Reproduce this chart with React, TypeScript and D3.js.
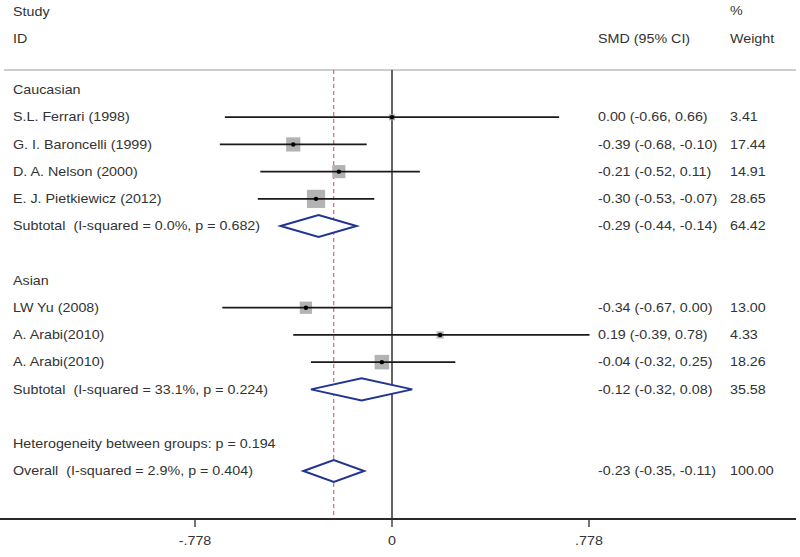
import React from "react";
import * as d3 from "d3";

const groups = ["Caucasian", "Asian"];
const studies = [
  "S.L. Ferrari (1998)",
  "G. I. Baroncelli (1999)",
  "D. A. Nelson (2000)",
  "E. J. Pietkiewicz (2012)",
  "LW Yu (2008)",
  "A. Arabi(2010)",
  "A. Arabi(2010)",
];
const studyGroup = [0, 0, 0, 0, 1, 1, 1];
const est = [0.0, -0.39, -0.21, -0.3, -0.34, 0.19, -0.04];
const lo = [-0.66, -0.68, -0.52, -0.53, -0.67, -0.39, -0.32];
const hi = [0.66, -0.1, 0.11, -0.07, 0.0, 0.78, 0.25];
const weight = [3.41, 17.44, 14.91, 28.65, 13.0, 4.33, 18.26];

const subLabels = [
  "Subtotal  (I-squared = 0.0%, p = 0.682)",
  "Subtotal  (I-squared = 33.1%, p = 0.224)",
];
const subEst = [-0.29, -0.12];
const subLo = [-0.44, -0.32];
const subHi = [-0.14, 0.08];
const subWeight = [64.42, 35.58];

const hetLabel = "Heterogeneity between groups: p = 0.194";
const overallLabel = "Overall  (I-squared = 2.9%, p = 0.404)";
const overallEst = -0.23;
const overallLo = -0.35;
const overallHi = -0.11;
const overallWeight = 100.0;

const tickValues = [-0.778, 0, 0.778];
const tickLabels = ["-.778", "0", ".778"];

const W = 800;
const H = 557;
const FONT = "'Liberation Sans', Arial, sans-serif";
const TXT = "#333";

function fmt(v: number) {
  return v.toFixed(2);
}
function ci(e: number, l: number, h: number) {
  return `${fmt(e)} (${fmt(l)}, ${fmt(h)})`;
}

function T({ x, y, children, anchor = "start" }: any) {
  return (
    <text
      transform={`translate(${x},${y}) scale(1.1,1)`}
      fontFamily={FONT}
      fontSize={13}
      fill={TXT}
      textAnchor={anchor}
      dominantBaseline="central"
      style={{ whiteSpace: "pre" }}
    >
      {children}
    </text>
  );
}

export default function App() {
  const x = d3.scaleLinear().domain([-0.778, 0.778]).range([195, 589]);
  const y = d3.scaleLinear().domain([0, 14]).range([90, 471]);
  const top = 70;
  const axisY = 519;
  const colCI = 598;
  const colW = 730;
  const labelX = 13;
  const halfD = 11;

  type Row = any;
  const rows: Row[] = [];
  let r = 0;
  groups.forEach((g, gi) => {
    rows.push({ type: "header", label: g, r: r++ });
    studies.forEach((s, i) => {
      if (studyGroup[i] === gi) rows.push({ type: "study", i, r: r++ });
    });
    rows.push({ type: "sub", gi, r: r++ });
    r++;
  });
  rows.push({ type: "het", r: r++ });
  rows.push({ type: "overall", r: r++ });

  const diamond = (e: number, l: number, h: number, yc: number) =>
    `M${x(l)},${yc} L${x(e)},${yc - halfD} L${x(h)},${yc} L${x(e)},${yc + halfD} Z`;

  return (
    <svg
      width={W}
      height={H}
      style={{ position: "absolute", left: 0, top: 0, background: "#fff" }}
    >
      <rect width={W} height={H} fill="#fff" />
      {/* headers */}
      <T x={labelX} y={12}>Study</T>
      <T x={labelX} y={39}>ID</T>
      <T x={colCI} y={39}>SMD (95% CI)</T>
      <T x={colW} y={11}>%</T>
      <T x={colW} y={39}>Weight</T>
      <line x1={4} x2={796} y1={top} y2={top} stroke="#c9ced3" strokeWidth={2} />

      {/* reference lines */}
      <line x1={x(0)} x2={x(0)} y1={top} y2={axisY} stroke="#111" strokeWidth={1.3} />
      <line
        x1={x(overallEst)}
        x2={x(overallEst)}
        y1={top}
        y2={axisY}
        stroke="#c0504d"
        strokeWidth={1}
        strokeDasharray="4,3"
      />

      {rows.map((row, k) => {
        const yc = y(row.r);
        if (row.type === "header") {
          return <T key={k} x={labelX} y={yc}>{row.label}</T>;
        }
        if (row.type === "study") {
          const i = row.i;
          const s = 3.4 * Math.sqrt(weight[i]);
          return (
            <g key={k}>
              <T x={labelX} y={yc}>{studies[i]}</T>
              <rect x={x(est[i]) - s / 2} y={yc - s / 2} width={s} height={s} fill="#b3b3b3" />
              <line x1={x(lo[i])} x2={x(hi[i])} y1={yc} y2={yc} stroke="#1a1a1a" strokeWidth={1.8} />
              <circle cx={x(est[i])} cy={yc} r={2.2} fill="#000" />
              <T x={colCI} y={yc}>{ci(est[i], lo[i], hi[i])}</T>
              <T x={colW} y={yc}>{fmt(weight[i])}</T>
            </g>
          );
        }
        if (row.type === "sub") {
          const gi = row.gi;
          return (
            <g key={k}>
              <T x={labelX} y={yc}>{subLabels[gi]}</T>
              <path d={diamond(subEst[gi], subLo[gi], subHi[gi], yc)} fill="#fff" stroke="#1f3591" strokeWidth={2} />
              <T x={colCI} y={yc}>{ci(subEst[gi], subLo[gi], subHi[gi])}</T>
              <T x={colW} y={yc}>{fmt(subWeight[gi])}</T>
            </g>
          );
        }
        if (row.type === "het") {
          return <T key={k} x={labelX} y={yc}>{hetLabel}</T>;
        }
        return (
          <g key={k}>
            <T x={labelX} y={yc}>{overallLabel}</T>
            <path d={diamond(overallEst, overallLo, overallHi, yc)} fill="#fff" stroke="#1f3591" strokeWidth={2} />
            <T x={colCI} y={yc}>{ci(overallEst, overallLo, overallHi)}</T>
            <T x={colW} y={yc}>{fmt(overallWeight)}</T>
          </g>
        );
      })}

      {/* x axis */}
      <line x1={0} x2={796} y1={axisY} y2={axisY} stroke="#2a2a2a" strokeWidth={2} />
      {tickValues.map((t, i) => (
        <g key={i}>
          <line x1={x(t)} x2={x(t)} y1={axisY} y2={axisY + 8} stroke="#2a2a2a" strokeWidth={1.3} />
          <T x={x(t)} y={541} anchor="middle">{tickLabels[i]}</T>
        </g>
      ))}
    </svg>
  );
}
